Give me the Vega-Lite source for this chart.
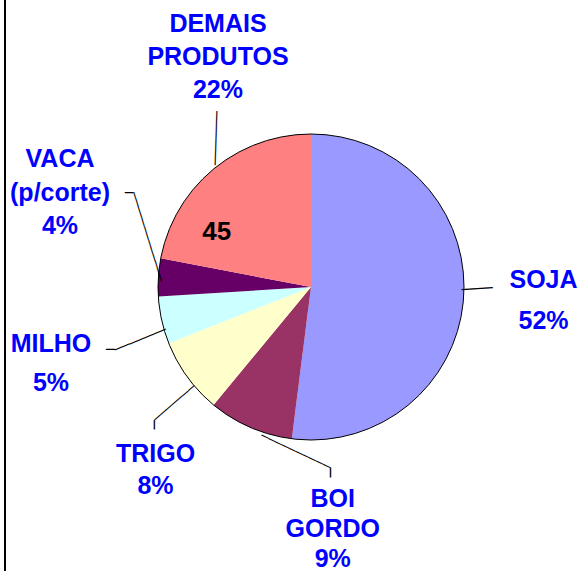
{
  "$schema": "https://vega.github.io/schema/vega-lite/v6.json",
  "autosize": {"type": "none"},
  "width": 542,
  "height": 568,
  "padding": {"left": 40, "top": 3, "right": 0, "bottom": 0},
  "background": "white",
  "config": {"view": {"stroke": null}},
  "data": {"values": [
    {"cat": "SOJA", "pct": 52, "idx": 1, "label": "SOJA\n52%", "note": ""},
    {"cat": "BOI GORDO", "pct": 9, "idx": 2, "label": "BOI\nGORDO\n9%", "note": ""},
    {"cat": "TRIGO", "pct": 8, "idx": 3, "label": "TRIGO\n8%", "note": ""},
    {"cat": "MILHO", "pct": 5, "idx": 4, "label": "MILHO\n5%", "note": ""},
    {"cat": "VACA", "pct": 4, "idx": 5, "label": "VACA\n(p/corte)\n4%", "note": ""},
    {"cat": "DEMAIS PRODUTOS", "pct": 22, "idx": 6, "label": "DEMAIS\nPRODUTOS\n22%", "note": "45"}
  ]},
  "layer": [
    {
      "encoding": {
        "theta": {"field": "pct", "type": "quantitative", "stack": true},
        "order": {"field": "idx", "type": "quantitative"},
        "detail": {"field": "cat", "type": "nominal"}
      },
      "layer": [
        {
          "mark": {"type": "arc", "radius": 153, "stroke": null},
          "encoding": {
            "color": {"field": "cat", "type": "nominal", "legend": null,
              "scale": {"domain": ["SOJA", "BOI GORDO", "TRIGO", "MILHO", "VACA", "DEMAIS PRODUTOS"],
                        "range": ["#9999FF", "#993366", "#FFFFCC", "#CCFFFF", "#660066", "#FF8080"]}}
          }
        },
        {"mark": {"type": "text", "radius": 153, "angle": 356.3, "dx": -1.5, "dy": -6.8, "align": "left", "baseline": "middle", "font": "DejaVu Sans Mono", "fontSize": 12.87, "color": "black"},
         "encoding": {"text": {"condition": {"test": "datum.cat === 'SOJA'", "value": "────"}, "value": ""}}},
        {"mark": {"type": "text", "radius": 153, "angle": 25.4, "dx": 13.6, "dy": 2.5, "align": "left", "baseline": "middle", "font": "DejaVu Sans Mono", "fontSize": 12.69, "color": "black"},
         "encoding": {"text": {"condition": {"test": "datum.cat === 'BOI GORDO'", "value": "──────────"}, "value": ""}}},
        {"mark": {"type": "text", "radius": 153, "angle": 90, "dx": 40.3, "dy": -79.9, "align": "left", "baseline": "middle", "font": "DejaVu Sans Mono", "fontSize": 15.9, "color": "black"},
         "encoding": {"text": {"condition": {"test": "datum.cat === 'BOI GORDO'", "value": "─"}, "value": ""}}},
        {"mark": {"type": "text", "radius": 153, "angle": 139.1, "dx": 0.6, "dy": -10.9, "align": "left", "baseline": "middle", "font": "DejaVu Sans Mono", "fontSize": 12.34, "color": "black"},
         "encoding": {"text": {"condition": {"test": "datum.cat === 'TRIGO'", "value": "───────"}, "value": ""}}},
        {"mark": {"type": "text", "radius": 153, "angle": 90, "dx": 43.1, "dy": 32.8, "align": "left", "baseline": "middle", "font": "DejaVu Sans Mono", "fontSize": 15.4, "color": "black"},
         "encoding": {"text": {"condition": {"test": "datum.cat === 'TRIGO'", "value": "─"}, "value": ""}}},
        {"mark": {"type": "text", "radius": 153, "angle": 157.8, "dx": -0.3, "dy": -9.2, "align": "left", "baseline": "middle", "font": "DejaVu Sans Mono", "fontSize": 13.0, "color": "black"},
         "encoding": {"text": {"condition": {"test": "datum.cat === 'MILHO'", "value": "───────"}, "value": ""}}},
        {"mark": {"type": "text", "radius": 153, "angle": 180, "dx": 46.7, "dy": -29.0, "align": "left", "baseline": "middle", "font": "DejaVu Sans Mono", "fontSize": 15, "color": "black"},
         "encoding": {"text": {"condition": {"test": "datum.cat === 'MILHO'", "value": "─"}, "value": ""}}},
        {"mark": {"type": "text", "radius": 153, "angle": 252.8, "dx": -4.9, "dy": 1.9, "align": "left", "baseline": "middle", "font": "DejaVu Sans Mono", "fontSize": 11.96, "color": "black"},
         "encoding": {"text": {"condition": {"test": "datum.cat === 'VACA'", "value": "─────────────"}, "value": ""}}},
        {"mark": {"type": "text", "radius": 153, "angle": 180, "dx": 25, "dy": 85.7, "align": "left", "baseline": "middle", "font": "DejaVu Sans Mono", "fontSize": 13.8, "color": "black"},
         "encoding": {"text": {"condition": {"test": "datum.cat === 'VACA'", "value": "─"}, "value": ""}}},
        {"mark": {"type": "text", "radius": 153, "angle": 271.8, "dx": 4.1, "dy": 2.0, "align": "left", "baseline": "middle", "font": "DejaVu Sans Mono", "fontSize": 12.8, "color": "black"},
         "encoding": {"text": {"condition": {"test": "datum.cat === 'DEMAIS PRODUTOS'", "value": "───────"}, "value": ""}}},
        {"mark": {"type": "text", "radius": 233, "dx": 0, "dy": -34, "align": "center", "baseline": "top", "lineBreak": "\n", "lineHeight": 41, "font": "Liberation Sans", "fontSize": 25, "fontWeight": "bold", "color": "#0000FF"},
         "encoding": {"text": {"condition": {"test": "datum.cat === 'SOJA'", "field": "label", "type": "nominal"}, "value": ""}}},
        {"mark": {"type": "text", "radius": 202, "dx": 102, "dy": 15, "align": "center", "baseline": "top", "lineBreak": "\n", "lineHeight": 30, "font": "Liberation Sans", "fontSize": 25, "fontWeight": "bold", "color": "#0000FF"},
         "encoding": {"text": {"condition": {"test": "datum.cat === 'BOI GORDO'", "field": "label", "type": "nominal"}, "value": ""}}},
        {"mark": {"type": "text", "radius": 220, "dx": 22.5, "dy": 25.4, "align": "center", "baseline": "top", "lineBreak": "\n", "lineHeight": 32.5, "font": "Liberation Sans", "fontSize": 25, "fontWeight": "bold", "color": "#0000FF"},
         "encoding": {"text": {"condition": {"test": "datum.cat === 'TRIGO'", "field": "label", "type": "nominal"}, "value": ""}}},
        {"mark": {"type": "text", "radius": 264, "dx": -2.4, "dy": -12.6, "align": "center", "baseline": "top", "lineBreak": "\n", "lineHeight": 39, "font": "Liberation Sans", "fontSize": 25, "fontWeight": "bold", "color": "#0000FF"},
         "encoding": {"text": {"condition": {"test": "datum.cat === 'MILHO'", "field": "label", "type": "nominal"}, "value": ""}}},
        {"mark": {"type": "text", "radius": 270, "dx": 18.5, "dy": -122.7, "align": "center", "baseline": "top", "lineBreak": "\n", "lineHeight": 33.5, "font": "Liberation Sans", "fontSize": 25, "fontWeight": "bold", "color": "#0000FF"},
         "encoding": {"text": {"condition": {"test": "datum.cat === 'VACA'", "field": "label", "type": "nominal"}, "value": ""}}},
        {"mark": {"type": "text", "radius": 289, "dx": 91.2, "dy": -52, "align": "center", "baseline": "top", "lineBreak": "\n", "lineHeight": 33, "font": "Liberation Sans", "fontSize": 25, "fontWeight": "bold", "color": "#0000FF"},
         "encoding": {"text": {"condition": {"test": "datum.cat === 'DEMAIS PRODUTOS'", "field": "label", "type": "nominal"}, "value": ""}}},
        {"mark": {"type": "text", "radius": 105, "dx": -27.4, "dy": 33.9, "align": "center", "baseline": "alphabetic", "font": "Liberation Sans", "fontSize": 26, "fontWeight": "bold", "color": "black"},
         "encoding": {"text": {"field": "note", "type": "nominal"}}}
      ]
    },
    {
      "transform": [{"aggregate": [{"op": "sum", "field": "pct", "as": "total"}]}],
      "mark": {"type": "arc", "radius": 153, "fill": null, "stroke": "black", "strokeWidth": 1},
      "encoding": {"theta": {"field": "total", "type": "quantitative", "stack": true}}
    },
    {
      "mark": {"type": "rule", "color": "black", "strokeWidth": 2},
      "encoding": {"x": {"value": -35}, "y": {"value": -3}, "y2": {"value": 568}}
    }
  ]
}
